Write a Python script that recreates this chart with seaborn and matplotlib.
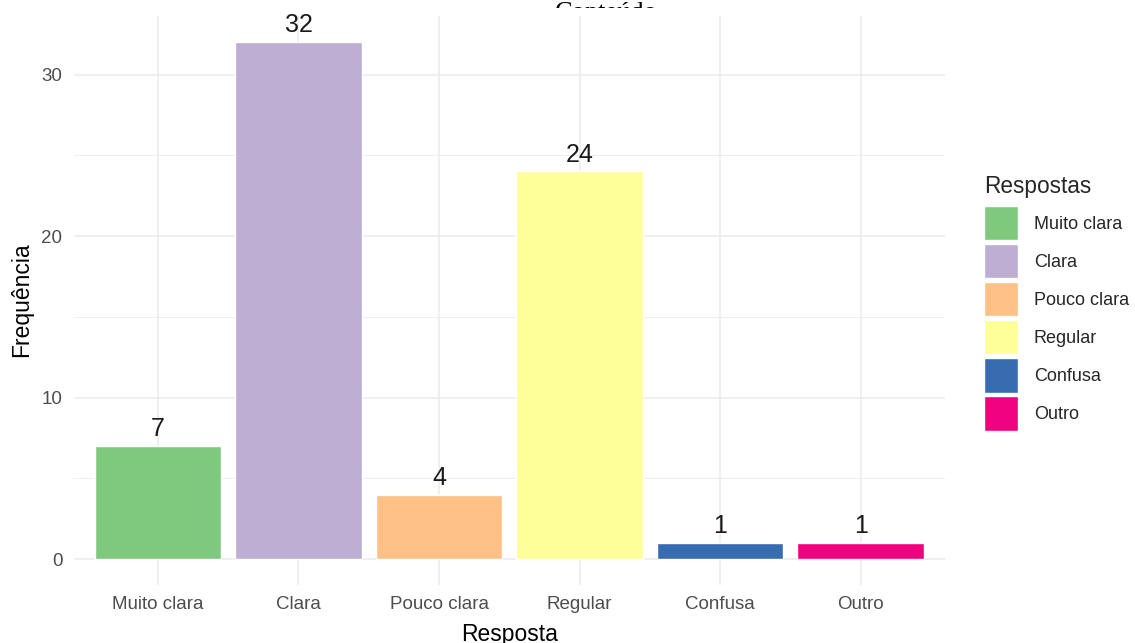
import matplotlib
matplotlib.use("Agg")
import matplotlib.pyplot as plt
from matplotlib.transforms import Bbox
import seaborn as sns
import pandas as pd

# Survey answers and counts
categorias = ["Muito clara", "Clara", "Pouco clara", "Regular", "Confusa", "Outro"]
frequencias = [7, 32, 4, 24, 1, 1]
cores = ["#7FC97F", "#BEAED4", "#FDC086", "#FFFF99", "#386CB0", "#F0027F"]
titulo = "Conteúdo"

df = pd.DataFrame({"Resposta": categorias, "Frequência": frequencias})
df["Resposta"] = pd.Categorical(df["Resposta"], categories=categorias, ordered=True)

sns.set_theme(style="white")
plt.rcParams["font.family"] = ["Liberation Sans", "DejaVu Sans"]

W, H, DPI = 1135, 643, 100
fig = plt.figure(figsize=(W / DPI, H / DPI), dpi=DPI)
ax = fig.add_axes([73.6 / W, 1 - 585 / H, (945 - 73.6) / W, (585 - 16.4) / H])

sns.barplot(data=df, x="Resposta", y="Frequência", hue="Resposta",
            palette=dict(zip(categorias, cores)), width=0.9,
            saturation=1, legend=True, ax=ax, zorder=3)

# Value labels above each bar
for i, v in enumerate(frequencias):
    ax.annotate(str(v), (i, v), xytext=(0, 3.5), textcoords="offset points",
                ha="center", va="bottom", fontsize=18, color="#1a1a1a", zorder=4)

# Panel styling: minimal theme grid
ax.set_xlim(-0.6, len(categorias) - 0.4)
ax.set_ylim(-1.6, 33.6)
ax.set_yticks([0, 10, 20, 30])
ax.set_yticks([5, 15, 25], minor=True)
ax.grid(True, which="major", axis="both", color="#EBEBEB", lw=1.1, zorder=0)
ax.grid(True, which="minor", axis="y", color="#EBEBEB", lw=0.6, zorder=0)
ax.set_axisbelow(True)
for s in ax.spines.values():
    s.set_visible(False)
ax.tick_params(axis="both", which="both", length=0, labelsize=13.5,
               labelcolor="#4D4D4D")
ax.tick_params(axis="x", pad=8)
ax.tick_params(axis="y", pad=8)

ax.set_xlabel("Resposta", fontsize=16.5, color="black")
ax.xaxis.set_label_coords(0.5, -0.066)
ax.set_ylabel("")
fig.text(22 / W, 1 - 300 / H, "Frequência", rotation=90, ha="center",
         va="center", fontsize=16.5, color="black")

# Legend
handles, labels = ax.get_legend_handles_labels()
leg = ax.legend(handles, labels, title="Respostas", loc="upper left",
                bbox_to_anchor=(984 / W, 1 - 175 / H),
                bbox_transform=fig.transFigure,
                frameon=False, fontsize=13, title_fontsize=16.3,
                alignment="left", handlelength=1.9, handleheight=2.53,
                labelspacing=0.22, handletextpad=0.85, borderpad=0,
                borderaxespad=0)
# a little more room between the legend title and the keys
leg._legend_box.sep = 5.8

# Title, partly hidden behind the panel area
t = fig.text(606 / W, 1 - 19 / H, titulo, ha="center", va="baseline",
             fontsize=19, family=["Liberation Serif", "DejaVu Serif"],
             color="black")
t.set_clip_box(Bbox.from_extents(0, H - 7.5, W, H))
t.set_clip_on(True)

fig.savefig("out.png", dpi=DPI, facecolor="white")
